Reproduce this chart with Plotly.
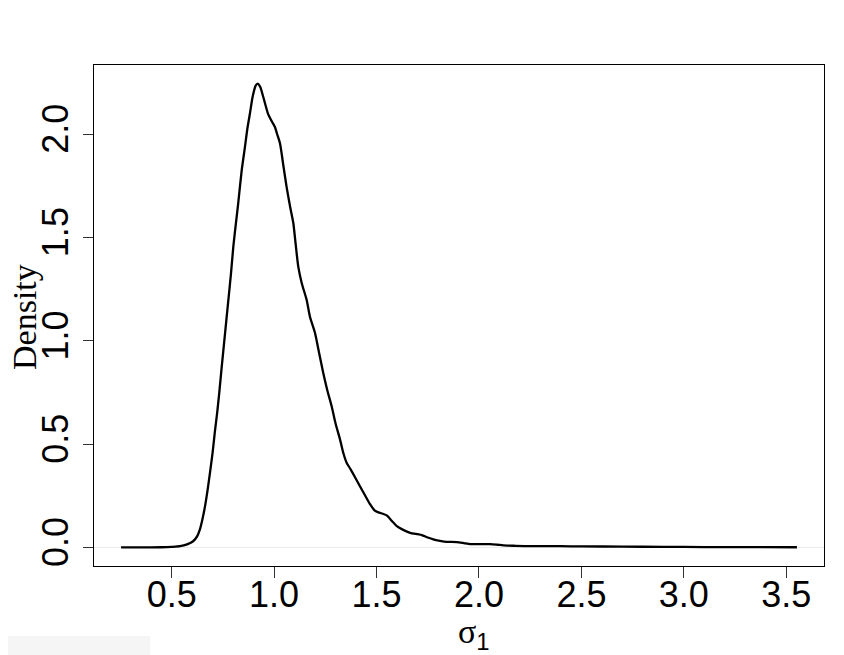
import plotly.graph_objects as go

# density curve
SIGMA = [
    0.253, 0.35, 0.45, 0.50, 0.541, 0.575, 0.605, 0.625, 0.638, 0.650,
    0.663, 0.675, 0.687, 0.700, 0.711, 0.722, 0.732, 0.744, 0.760, 0.776,
    0.790, 0.801, 0.815, 0.825, 0.842, 0.858, 0.870, 0.882, 0.895, 0.910,
    0.920, 0.932, 0.950, 0.970, 0.990, 1.004, 1.015, 1.029, 1.045, 1.061,
    1.078, 1.094, 1.105, 1.118, 1.135, 1.159, 1.175, 1.200, 1.220, 1.240,
    1.260, 1.281, 1.300, 1.322, 1.338, 1.354, 1.371, 1.395, 1.419, 1.445,
    1.469, 1.490, 1.509, 1.530, 1.550, 1.575, 1.599, 1.630, 1.664, 1.700,
    1.721, 1.750, 1.777, 1.810, 1.843, 1.892, 1.930, 1.957, 2.000, 2.055,
    2.090, 2.119, 2.180, 2.266, 2.396, 2.500, 2.700, 2.900, 3.100, 3.300,
    3.552,
]
DENSITY = [
    0.000, 0.000, 0.001, 0.003, 0.006, 0.015, 0.030, 0.055, 0.087, 0.135,
    0.200, 0.275, 0.361, 0.460, 0.560, 0.650, 0.745, 0.870, 1.030, 1.190,
    1.330, 1.456, 1.580, 1.667, 1.826, 1.940, 2.030, 2.100, 2.180, 2.235,
    2.245, 2.230, 2.170, 2.100, 2.060, 2.035, 2.000, 1.955, 1.850, 1.745,
    1.650, 1.569, 1.470, 1.359, 1.279, 1.198, 1.117, 1.037, 0.940, 0.844,
    0.760, 0.683, 0.600, 0.522, 0.457, 0.410, 0.382, 0.340, 0.296, 0.250,
    0.208, 0.180, 0.170, 0.163, 0.155, 0.128, 0.103, 0.085, 0.071, 0.064,
    0.060, 0.048, 0.039, 0.032, 0.027, 0.026, 0.020, 0.016, 0.016, 0.016,
    0.013, 0.010, 0.008, 0.006, 0.006, 0.005, 0.004, 0.003, 0.002, 0.002,
    0.001,
]
X_TICKS = [0.5, 1.0, 1.5, 2.0, 2.5, 3.0, 3.5]
X_TICK_TEXT = ["0.5", "1.0", "1.5", "2.0", "2.5", "3.0", "3.5"]
Y_TICKS = [0.0, 0.5, 1.0, 1.5, 2.0]
Y_TICK_TEXT = ["0.0", "0.5", "1.0", "1.5", "2.0"]

SANS = "Liberation Sans, Arial, sans-serif"
SERIF = "Liberation Serif, Times New Roman, serif"

# the page body has an 8px margin, so the figure sits 8px right and down
OFF = 8
PLOT_L, PLOT_R, PLOT_T, PLOT_B = 94 - OFF, 824 - OFF, 65 - OFF, 566 - OFF
PW, PH = PLOT_R - PLOT_L, PLOT_B - PLOT_T


def px(x):
    return (x - OFF - PLOT_L) / PW


def py(y):
    return (PLOT_B - (y - OFF)) / PH


fig = go.Figure()
fig.add_trace(
    go.Scatter(
        x=SIGMA,
        y=DENSITY,
        mode="lines",
        line={"color": "black", "width": 2.3, "shape": "spline", "smoothing": 0.6},
        hoverinfo="skip",
    )
)

# faint zero line, as plot.density draws it
fig.add_shape(
    type="line", xref="paper", yref="y", x0=0, x1=1, y0=0, y1=0,
    line={"color": "#ebebeb", "width": 1}, layer="below",
)

# light patch at the bottom-left corner of the scan
fig.add_shape(
    type="rect", xref="paper", yref="paper",
    x0=px(0), x1=px(150), y0=py(636), y1=py(670),
    line={"width": 0}, fillcolor="#f5f5f5", layer="below",
)

fig.add_annotation(
    x=px(24), y=py(317), xref="paper", yref="paper",
    xanchor="center", yanchor="middle",
    text="Density", textangle=-90, showarrow=False,
    font={"family": SERIF, "size": 34, "color": "black"},
)
fig.add_annotation(
    x=px(474), y=py(634), xref="paper", yref="paper",
    xanchor="center", yanchor="middle",
    text="σ<sub><span style='font-family:Liberation Sans'>1</span></sub>",
    showarrow=False,
    font={"family": SERIF, "size": 34, "color": "black"},
)

axis_common = {
    "showline": True,
    "mirror": True,
    "linecolor": "black",
    "linewidth": 1.3,
    "ticks": "outside",
    "tickcolor": "#333333",
    "tickwidth": 1.3,
    "showgrid": False,
    "zeroline": False,
    "tickfont": {"family": SANS, "size": 36, "color": "black"},
    "fixedrange": True,
}

fig.update_layout(
    width=844,
    height=655,
    margin={"l": PLOT_L, "r": 844 - PLOT_R, "t": PLOT_T, "b": 655 - PLOT_B},
    paper_bgcolor="white",
    plot_bgcolor="white",
    showlegend=False,
    xaxis={
        **axis_common,
        "range": [0.121, 3.684],
        "tickmode": "array",
        "tickvals": X_TICKS,
        "ticktext": X_TICK_TEXT,
        "ticklen": 11,
        "ticklabelstandoff": -14,
    },
    yaxis={
        **axis_common,
        "range": [-0.0898, 2.335],
        "tickmode": "array",
        "tickvals": Y_TICKS,
        "ticktext": Y_TICK_TEXT,
        "tickangle": -90,
        "ticklen": 10,
        "ticklabelstandoff": 0,
    },
)

fig.write_html("out.html")
